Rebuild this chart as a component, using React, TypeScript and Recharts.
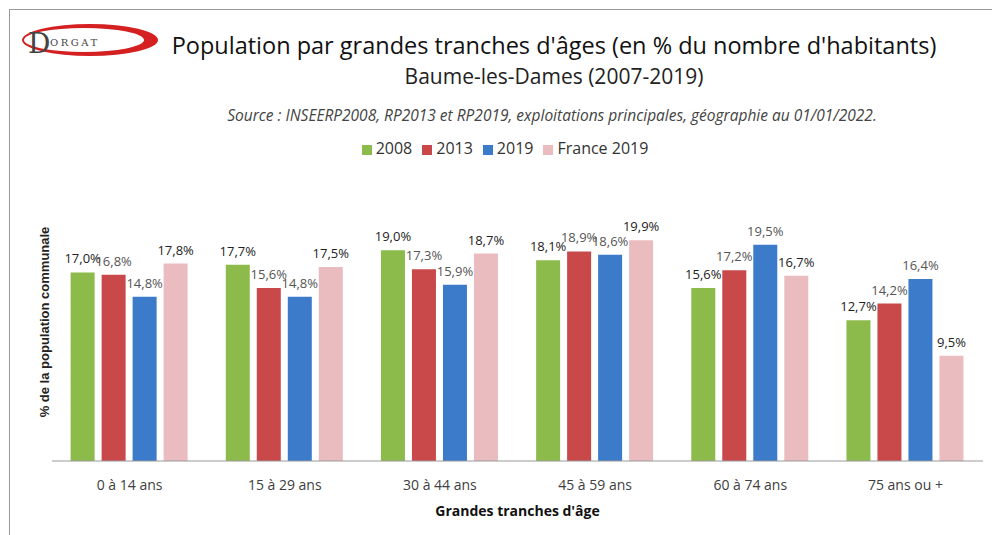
import React from "react";
import { BarChart, Bar, XAxis, YAxis, LabelList, Legend } from "recharts";

const categories = ["0 à 14 ans", "15 à 29 ans", "30 à 44 ans", "45 à 59 ans", "60 à 74 ans", "75 ans ou +"];
const values2008 = [17.0, 17.7, 19.0, 18.1, 15.6, 12.7];
const values2013 = [16.8, 15.6, 17.3, 18.9, 17.2, 14.2];
const values2019 = [14.8, 14.8, 15.9, 18.6, 19.5, 16.4];
const valuesFrance2019 = [17.8, 17.5, 18.7, 19.9, 16.7, 9.5];

const data = categories.map((cat, i) => ({
  cat,
  y2008: values2008[i],
  y2013: values2013[i],
  y2019: values2019[i],
  france: valuesFrance2019[i],
}));

const fmt = (v: any) => Number(v).toFixed(1).replace(".", ",") + "%";

const labelFont = "'Open Sans', sans-serif";

// logo: red crescent swoosh + DORGAT
const Logo = () => (
  <svg width="160" height="50" style={{ position: "absolute", left: 14, top: 16 }}>
    <path
      fillRule="evenodd"
      fill="#d42020"
      d="M 8 24 A 68 16 0 1 0 144 24 A 68 16 0 1 0 8 24 Z M 10 24 A 60 12 0 1 0 130 24 A 60 12 0 1 0 10 24 Z"
    />
    <text x="14" y="37" fontFamily="'DejaVu Serif', serif" fontSize="28" fill="#444">D</text>
    <text x="36" y="30" fontFamily="'DejaVu Serif', serif" fontSize="10" fill="#444" letterSpacing="2.5">ORGAT</text>
  </svg>
);

export default function App() {
  return (
    <div
      style={{
        position: "absolute",
        left: 0,
        top: 0,
        width: 992,
        height: 535,
        background: "#fff",
        overflow: "hidden",
      }}
    >
      <div
        style={{
          position: "absolute",
          left: 9,
          top: 9,
          width: 1000,
          height: 600,
          borderLeft: "1px solid #999",
          borderTop: "1px solid #999",
        }}
      />
      <Logo />
      <div
        style={{
          position: "absolute",
          left: 100,
          width: 908,
          top: 29,
          textAlign: "center",
          fontFamily: "'Open Sans', sans-serif",
          fontSize: 23.5,
          color: "#111",
        }}
      >
        Population par grandes tranches d'âges (en % du nombre d'habitants)
      </div>
      <div
        style={{
          position: "absolute",
          left: 100,
          width: 908,
          top: 62,
          textAlign: "center",
          fontFamily: "'Open Sans', sans-serif",
          fontSize: 21,
          color: "#222",
        }}
      >
        Baume-les-Dames (2007-2019)
      </div>
      <div
        style={{
          position: "absolute",
          left: 100,
          width: 904,
          top: 104,
          textAlign: "center",
          fontFamily: "'Open Sans', sans-serif",
          fontStyle: "italic",
          fontSize: 15.5,
          color: "#444",
        }}
      >
        Source : INSEERP2008, RP2013 et RP2019, exploitations principales, géographie au 01/01/2022.
      </div>
      <div
        style={{
          position: "absolute",
          left: 44,
          top: 322,
          transform: "translate(-50%, -50%) rotate(-90deg)",
          whiteSpace: "nowrap",
          fontFamily: "'Liberation Sans', Arial, sans-serif",
          fontWeight: "bold",
          fontSize: 13,
          color: "#222",
        }}
      >
        % de la population communale
      </div>
      <div style={{ position: "absolute", left: 0, top: 0 }}>
        <BarChart
          width={992}
          height={535}
          data={data}
          margin={{ top: 217, right: 9, bottom: 14, left: 52 }}
          barCategoryGap="12%"
          barGap={7}
        >
          <XAxis
            dataKey="cat"
            height={60}
            tickLine={false}
            axisLine={{ stroke: "#999" }}
            tick={{ fontFamily: labelFont, fontSize: 14, fill: "#404040" }}
            tickMargin={13}
            label={{
              value: "Grandes tranches d'âge",
              position: "insideBottom",
              offset: 5,
              style: { fontFamily: labelFont, fontWeight: "bold", fontSize: 14, fill: "#111" },
            }}
          />
          <YAxis hide domain={[0, 22]} />
          <Legend
            verticalAlign="middle"
            align="center"
            iconType="square"
            iconSize={10}
            wrapperStyle={{
              top: 137,
              left: 0,
              width: 1020,
              fontFamily: labelFont,
              fontSize: 16,
            }}
            formatter={(value: any) => <span style={{ color: "#333" }}>{value}</span>}
          />
          <Bar dataKey="y2008" name="2008" fill="#8cbb4c" isAnimationActive={false}>
            <LabelList dataKey="y2008" position="top" offset={9} formatter={fmt} style={{ fontFamily: labelFont, fontSize: 13, fill: "#222" }} />
          </Bar>
          <Bar dataKey="y2013" name="2013" fill="#c9484a" isAnimationActive={false}>
            <LabelList dataKey="y2013" position="top" offset={9} formatter={fmt} style={{ fontFamily: labelFont, fontSize: 13, fill: "#555" }} />
          </Bar>
          <Bar dataKey="y2019" name="2019" fill="#3b7bc9" isAnimationActive={false}>
            <LabelList dataKey="y2019" position="top" offset={9} formatter={fmt} style={{ fontFamily: labelFont, fontSize: 13, fill: "#555" }} />
          </Bar>
          <Bar dataKey="france" name="France 2019" fill="#ebbcbf" isAnimationActive={false}>
            <LabelList dataKey="france" position="top" offset={9} formatter={fmt} style={{ fontFamily: labelFont, fontSize: 13, fill: "#222" }} />
          </Bar>
        </BarChart>
      </div>
    </div>
  );
}
